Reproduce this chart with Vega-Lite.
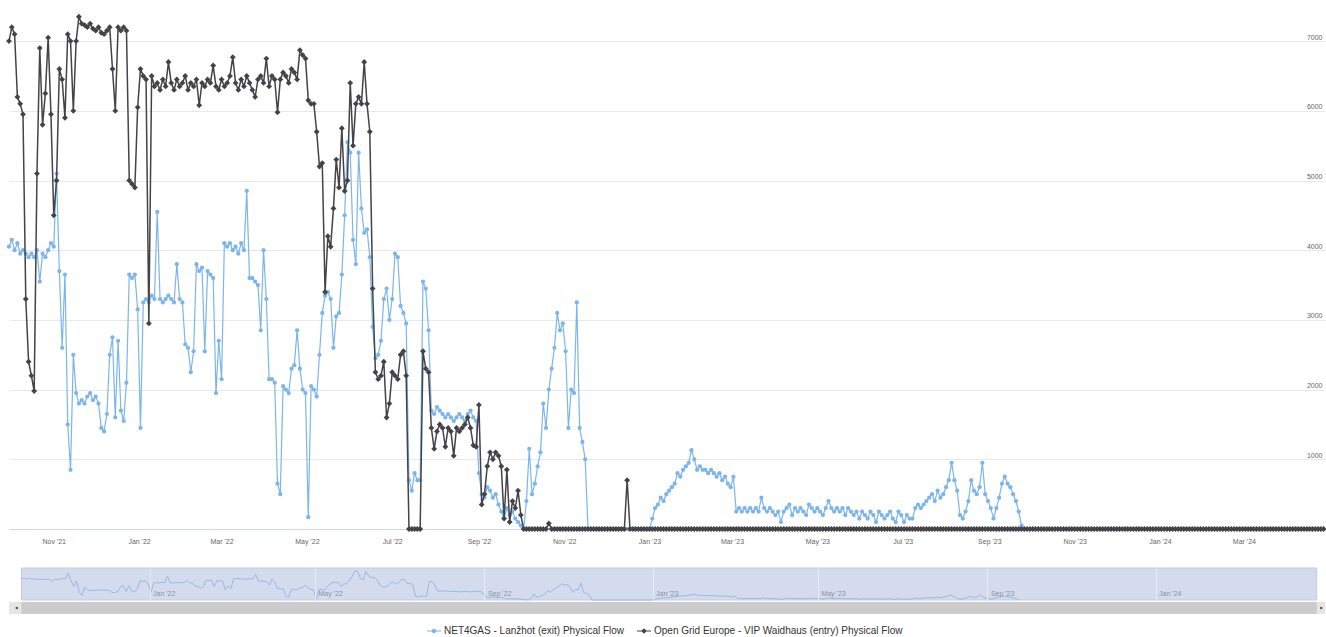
{
  "$schema": "https://vega.github.io/schema/vega-lite/v6.json",
  "background": "#ffffff",
  "padding": {"left": 6, "top": 0, "right": 0, "bottom": 0},
  "config": {
    "view": {"stroke": null},
    "font": "Liberation Sans",
    "axis": {"labelFont": "Liberation Sans"},
    "legend": {"labelFont": "Liberation Sans"}
  },
  "datasets": {
    "range": [{"start": "2021-09-30", "end": "2024-04-27"}],
    "keys": [{"s": "a"}, {"s": "b"}],
    "flow": [
      {"d":"2021-09-30","a":4050,"b":7000},{"d":"2021-10-02","a":4150,"b":7200},{"d":"2021-10-04","a":4000,"b":7100},{"d":"2021-10-06","a":4100,"b":6200},
      {"d":"2021-10-08","a":3950,"b":6100},{"d":"2021-10-10","a":4000,"b":5950},{"d":"2021-10-12","a":3950,"b":3300},{"d":"2021-10-14","a":3900,"b":2400},
      {"d":"2021-10-16","a":3950,"b":2200},{"d":"2021-10-18","a":3900,"b":1980},{"d":"2021-10-20","a":4000,"b":5100},{"d":"2021-10-22","a":3550,"b":6900},
      {"d":"2021-10-24","a":3950,"b":5800},{"d":"2021-10-26","a":3900,"b":6250},{"d":"2021-10-28","a":4000,"b":7050},{"d":"2021-10-30","a":4100,"b":5950},
      {"d":"2021-11-01","a":4050,"b":4500},{"d":"2021-11-03","a":5100,"b":5000},{"d":"2021-11-05","a":3700,"b":6600},{"d":"2021-11-07","a":2600,"b":6450},
      {"d":"2021-11-09","a":3650,"b":5900},{"d":"2021-11-11","a":1500,"b":7100},{"d":"2021-11-13","a":850,"b":7000},{"d":"2021-11-15","a":2500,"b":6000},
      {"d":"2021-11-17","a":1950,"b":7000},{"d":"2021-11-19","a":1800,"b":7350},{"d":"2021-11-21","a":1850,"b":7250},{"d":"2021-11-23","a":1800,"b":7230},
      {"d":"2021-11-25","a":1900,"b":7200},{"d":"2021-11-27","a":1950,"b":7250},{"d":"2021-11-29","a":1850,"b":7180},{"d":"2021-12-01","a":1900,"b":7150},
      {"d":"2021-12-03","a":1800,"b":7200},{"d":"2021-12-05","a":1450,"b":7120},{"d":"2021-12-07","a":1400,"b":7100},{"d":"2021-12-09","a":1650,"b":7150},
      {"d":"2021-12-11","a":2500,"b":7200},{"d":"2021-12-13","a":2750,"b":6600},{"d":"2021-12-15","a":1600,"b":6000},{"d":"2021-12-17","a":2700,"b":7200},
      {"d":"2021-12-19","a":1700,"b":7150},{"d":"2021-12-21","a":1550,"b":7200},{"d":"2021-12-23","a":2100,"b":7150},{"d":"2021-12-25","a":3650,"b":5000},
      {"d":"2021-12-27","a":3600,"b":4950},{"d":"2021-12-29","a":3650,"b":4900},{"d":"2021-12-31","a":3150,"b":6050},
      {"d":"2022-01-02","a":1450,"b":6600},{"d":"2022-01-04","a":3250,"b":6500},{"d":"2022-01-06","a":3300,"b":6450},{"d":"2022-01-08","a":3250,"b":2950},
      {"d":"2022-01-10","a":3350,"b":6500},{"d":"2022-01-12","a":3300,"b":6350},{"d":"2022-01-14","a":4550,"b":6400},{"d":"2022-01-16","a":3300,"b":6300},
      {"d":"2022-01-18","a":3250,"b":6450},{"d":"2022-01-20","a":3300,"b":6350},{"d":"2022-01-22","a":3350,"b":6700},{"d":"2022-01-24","a":3300,"b":6400},
      {"d":"2022-01-26","a":3250,"b":6300},{"d":"2022-01-28","a":3800,"b":6450},{"d":"2022-01-30","a":3300,"b":6350},{"d":"2022-02-01","a":3250,"b":6400},
      {"d":"2022-02-03","a":2650,"b":6500},{"d":"2022-02-05","a":2600,"b":6300},{"d":"2022-02-07","a":2250,"b":6400},{"d":"2022-02-09","a":2550,"b":6350},
      {"d":"2022-02-11","a":3800,"b":6450},{"d":"2022-02-13","a":3700,"b":6080},{"d":"2022-02-15","a":3750,"b":6400},{"d":"2022-02-17","a":2550,"b":6350},
      {"d":"2022-02-19","a":3700,"b":6450},{"d":"2022-02-21","a":3650,"b":6400},{"d":"2022-02-23","a":3600,"b":6650},{"d":"2022-02-25","a":1950,"b":6350},
      {"d":"2022-02-27","a":2700,"b":6300},{"d":"2022-03-01","a":2150,"b":6450},{"d":"2022-03-03","a":4100,"b":6350},{"d":"2022-03-05","a":4050,"b":6400},
      {"d":"2022-03-07","a":4100,"b":6500},{"d":"2022-03-09","a":4000,"b":6770},{"d":"2022-03-11","a":4050,"b":6400},{"d":"2022-03-13","a":3950,"b":6300},
      {"d":"2022-03-15","a":4100,"b":6450},{"d":"2022-03-17","a":4000,"b":6350},{"d":"2022-03-19","a":4850,"b":6500},{"d":"2022-03-21","a":3600,"b":6400},
      {"d":"2022-03-23","a":3600,"b":6300},{"d":"2022-03-25","a":3550,"b":6200},{"d":"2022-03-27","a":3500,"b":6450},{"d":"2022-03-29","a":2850,"b":6500},
      {"d":"2022-03-31","a":4000,"b":6400},{"d":"2022-04-02","a":3300,"b":6750},{"d":"2022-04-04","a":2150,"b":6350},{"d":"2022-04-06","a":2150,"b":6500},
      {"d":"2022-04-08","a":2100,"b":6450},{"d":"2022-04-10","a":650,"b":5980},{"d":"2022-04-12","a":500,"b":6450},{"d":"2022-04-14","a":2050,"b":6550},
      {"d":"2022-04-16","a":2000,"b":6500},{"d":"2022-04-18","a":1950,"b":6400},{"d":"2022-04-20","a":2300,"b":6600},{"d":"2022-04-22","a":2350,"b":6550},
      {"d":"2022-04-24","a":2850,"b":6450},{"d":"2022-04-26","a":2300,"b":6870},{"d":"2022-04-28","a":2000,"b":6800},{"d":"2022-04-30","a":1950,"b":6750},
      {"d":"2022-05-02","a":170,"b":6150},{"d":"2022-05-04","a":2050,"b":6100},{"d":"2022-05-06","a":2000,"b":6100},{"d":"2022-05-08","a":1900,"b":5700},
      {"d":"2022-05-10","a":2500,"b":5200},{"d":"2022-05-12","a":3100,"b":5250},{"d":"2022-05-14","a":3350,"b":3400},{"d":"2022-05-16","a":3400,"b":4200},
      {"d":"2022-05-18","a":3300,"b":4050},{"d":"2022-05-20","a":2600,"b":4600},{"d":"2022-05-22","a":3050,"b":5300},{"d":"2022-05-24","a":3100,"b":4900},
      {"d":"2022-05-26","a":3650,"b":5750},{"d":"2022-05-28","a":4500,"b":4850},{"d":"2022-05-30","a":5550,"b":5000},{"d":"2022-06-01","a":5400,"b":6400},
      {"d":"2022-06-03","a":4150,"b":5500},{"d":"2022-06-05","a":3800,"b":6100},{"d":"2022-06-07","a":5400,"b":6200},{"d":"2022-06-09","a":4600,"b":6100},
      {"d":"2022-06-11","a":4250,"b":6700},{"d":"2022-06-13","a":4300,"b":6100},{"d":"2022-06-15","a":3900,"b":5700},{"d":"2022-06-17","a":2900,"b":3450},
      {"d":"2022-06-19","a":2450,"b":2250},{"d":"2022-06-21","a":2500,"b":2150},{"d":"2022-06-23","a":2700,"b":2200},{"d":"2022-06-25","a":3300,"b":2400},
      {"d":"2022-06-27","a":3450,"b":1600},{"d":"2022-06-29","a":3000,"b":1800},{"d":"2022-07-01","a":3300,"b":2250},{"d":"2022-07-03","a":3950,"b":2200},
      {"d":"2022-07-05","a":3900,"b":2150},{"d":"2022-07-07","a":3200,"b":2500},{"d":"2022-07-09","a":3100,"b":2550},{"d":"2022-07-11","a":2950,"b":2200},
      {"d":"2022-07-13","a":700,"b":0},{"d":"2022-07-15","a":550,"b":0},{"d":"2022-07-17","a":800,"b":0},{"d":"2022-07-19","a":700,"b":0},
      {"d":"2022-07-21","a":700,"b":0},{"d":"2022-07-23","a":3550,"b":2550},{"d":"2022-07-25","a":3450,"b":2300},{"d":"2022-07-27","a":2850,"b":2250},
      {"d":"2022-07-29","a":1700,"b":1450},{"d":"2022-07-31","a":1650,"b":1150},{"d":"2022-08-02","a":1750,"b":1400},{"d":"2022-08-04","a":1700,"b":1500},
      {"d":"2022-08-06","a":1650,"b":1450},{"d":"2022-08-08","a":1600,"b":1180},{"d":"2022-08-10","a":1650,"b":1450},{"d":"2022-08-12","a":1600,"b":1400},
      {"d":"2022-08-14","a":1550,"b":1050},{"d":"2022-08-16","a":1600,"b":1450},{"d":"2022-08-18","a":1650,"b":1400},{"d":"2022-08-20","a":1600,"b":1450},
      {"d":"2022-08-22","a":1550,"b":1500},{"d":"2022-08-24","a":1650,"b":1600},{"d":"2022-08-26","a":1700,"b":1450},{"d":"2022-08-28","a":1600,"b":1200},
      {"d":"2022-08-30","a":1550,"b":1180},{"d":"2022-09-01","a":800,"b":1780},{"d":"2022-09-03","a":500,"b":350},{"d":"2022-09-05","a":450,"b":500},
      {"d":"2022-09-07","a":600,"b":900},{"d":"2022-09-09","a":550,"b":1100},{"d":"2022-09-11","a":450,"b":1000},{"d":"2022-09-13","a":500,"b":1100},
      {"d":"2022-09-15","a":350,"b":1050},{"d":"2022-09-17","a":250,"b":900},{"d":"2022-09-19","a":150,"b":150},{"d":"2022-09-21","a":300,"b":850},
      {"d":"2022-09-23","a":200,"b":100},{"d":"2022-09-25","a":250,"b":400},{"d":"2022-09-27","a":150,"b":300},{"d":"2022-09-29","a":100,"b":550},
      {"d":"2022-10-01","a":50,"b":200},{"d":"2022-10-03","a":0,"b":0},{"d":"2022-10-05","a":400,"b":0},{"d":"2022-10-07","a":1150,"b":0},
      {"d":"2022-10-09","a":500,"b":0},{"d":"2022-10-11","a":650,"b":0},{"d":"2022-10-13","a":900,"b":0},{"d":"2022-10-15","a":1100,"b":0},
      {"d":"2022-10-17","a":1800,"b":0},{"d":"2022-10-19","a":1450,"b":0},{"d":"2022-10-21","a":2000,"b":80},{"d":"2022-10-23","a":2300,"b":0},
      {"d":"2022-10-25","a":2600,"b":0},{"d":"2022-10-27","a":3100,"b":0},{"d":"2022-10-29","a":2850,"b":0},{"d":"2022-10-31","a":2950,"b":0},
      {"d":"2022-11-02","a":2550,"b":0},{"d":"2022-11-04","a":1450,"b":0},{"d":"2022-11-06","a":2000,"b":0},{"d":"2022-11-08","a":1950,"b":0},
      {"d":"2022-11-10","a":3250,"b":0},{"d":"2022-11-12","a":1450,"b":0},{"d":"2022-11-14","a":1250,"b":0},{"d":"2022-11-16","a":1000,"b":0},
      {"d":"2022-11-18","a":0,"b":0},{"d":"2022-11-20","a":0,"b":0},{"d":"2022-11-22","a":0,"b":0},{"d":"2022-11-24","a":0,"b":0},
      {"d":"2022-11-26","a":0,"b":0},{"d":"2022-11-28","a":0,"b":0},{"d":"2022-11-30","a":0,"b":0},{"d":"2022-12-02","a":0,"b":0},
      {"d":"2022-12-04","a":0,"b":0},{"d":"2022-12-06","a":0,"b":0},{"d":"2022-12-08","a":0,"b":0},{"d":"2022-12-10","a":0,"b":0},
      {"d":"2022-12-12","a":0,"b":0},{"d":"2022-12-14","a":0,"b":0},{"d":"2022-12-16","a":0,"b":700},{"d":"2022-12-18","a":0,"b":0},
      {"d":"2022-12-20","a":0,"b":0},{"d":"2022-12-22","a":0,"b":0},{"d":"2022-12-24","a":0,"b":0},{"d":"2022-12-26","a":0,"b":0},
      {"d":"2022-12-28","a":0,"b":0},{"d":"2022-12-30","a":0,"b":0},{"d":"2023-01-01","a":0,"b":0},
      {"d":"2023-01-03","a":150,"b":0},{"d":"2023-01-05","a":300,"b":0},{"d":"2023-01-07","a":350,"b":0},{"d":"2023-01-09","a":450,"b":0},
      {"d":"2023-01-11","a":400,"b":0},{"d":"2023-01-13","a":500,"b":0},{"d":"2023-01-15","a":550,"b":0},{"d":"2023-01-17","a":600,"b":0},
      {"d":"2023-01-19","a":650,"b":0},{"d":"2023-01-21","a":800,"b":0},{"d":"2023-01-23","a":750,"b":0},{"d":"2023-01-25","a":850,"b":0},
      {"d":"2023-01-27","a":900,"b":0},{"d":"2023-01-29","a":950,"b":0},{"d":"2023-01-31","a":1130,"b":0},{"d":"2023-02-02","a":1000,"b":0},
      {"d":"2023-02-04","a":850,"b":0},{"d":"2023-02-06","a":900,"b":0},{"d":"2023-02-08","a":850,"b":0},{"d":"2023-02-10","a":850,"b":0},
      {"d":"2023-02-12","a":800,"b":0},{"d":"2023-02-14","a":850,"b":0},{"d":"2023-02-16","a":800,"b":0},{"d":"2023-02-18","a":750,"b":0},
      {"d":"2023-02-20","a":800,"b":0},{"d":"2023-02-22","a":700,"b":0},{"d":"2023-02-24","a":750,"b":0},{"d":"2023-02-26","a":650,"b":0},
      {"d":"2023-02-28","a":600,"b":0},{"d":"2023-03-02","a":750,"b":0},{"d":"2023-03-04","a":250,"b":0},{"d":"2023-03-06","a":300,"b":0},
      {"d":"2023-03-08","a":250,"b":0},{"d":"2023-03-10","a":300,"b":0},{"d":"2023-03-12","a":250,"b":0},{"d":"2023-03-14","a":300,"b":0},
      {"d":"2023-03-16","a":250,"b":0},{"d":"2023-03-18","a":300,"b":0},{"d":"2023-03-20","a":250,"b":0},{"d":"2023-03-22","a":450,"b":0},
      {"d":"2023-03-24","a":300,"b":0},{"d":"2023-03-26","a":250,"b":0},{"d":"2023-03-28","a":300,"b":0},{"d":"2023-03-30","a":250,"b":0},
      {"d":"2023-04-01","a":200,"b":0},{"d":"2023-04-03","a":250,"b":0},{"d":"2023-04-05","a":100,"b":0},{"d":"2023-04-07","a":250,"b":0},
      {"d":"2023-04-09","a":300,"b":0},{"d":"2023-04-11","a":350,"b":0},{"d":"2023-04-13","a":200,"b":0},{"d":"2023-04-15","a":300,"b":0},
      {"d":"2023-04-17","a":250,"b":0},{"d":"2023-04-19","a":300,"b":0},{"d":"2023-04-21","a":250,"b":0},{"d":"2023-04-23","a":200,"b":0},
      {"d":"2023-04-25","a":350,"b":0},{"d":"2023-04-27","a":300,"b":0},{"d":"2023-04-29","a":250,"b":0},{"d":"2023-05-01","a":300,"b":0},
      {"d":"2023-05-03","a":250,"b":0},{"d":"2023-05-05","a":200,"b":0},{"d":"2023-05-07","a":300,"b":0},{"d":"2023-05-09","a":400,"b":0},
      {"d":"2023-05-11","a":300,"b":0},{"d":"2023-05-13","a":250,"b":0},{"d":"2023-05-15","a":300,"b":0},{"d":"2023-05-17","a":250,"b":0},
      {"d":"2023-05-19","a":300,"b":0},{"d":"2023-05-21","a":200,"b":0},{"d":"2023-05-23","a":300,"b":0},{"d":"2023-05-25","a":250,"b":0},
      {"d":"2023-05-27","a":200,"b":0},{"d":"2023-05-29","a":250,"b":0},{"d":"2023-05-31","a":150,"b":0},{"d":"2023-06-02","a":250,"b":0},
      {"d":"2023-06-04","a":200,"b":0},{"d":"2023-06-06","a":150,"b":0},{"d":"2023-06-08","a":250,"b":0},{"d":"2023-06-10","a":200,"b":0},
      {"d":"2023-06-12","a":100,"b":0},{"d":"2023-06-14","a":250,"b":0},{"d":"2023-06-16","a":200,"b":0},{"d":"2023-06-18","a":150,"b":0},
      {"d":"2023-06-20","a":200,"b":0},{"d":"2023-06-22","a":250,"b":0},{"d":"2023-06-24","a":150,"b":0},{"d":"2023-06-26","a":100,"b":0},
      {"d":"2023-06-28","a":250,"b":0},{"d":"2023-06-30","a":200,"b":0},{"d":"2023-07-02","a":100,"b":0},{"d":"2023-07-04","a":200,"b":0},
      {"d":"2023-07-06","a":150,"b":0},{"d":"2023-07-08","a":150,"b":0},{"d":"2023-07-10","a":300,"b":0},{"d":"2023-07-12","a":350,"b":0},
      {"d":"2023-07-14","a":300,"b":0},{"d":"2023-07-16","a":350,"b":0},{"d":"2023-07-18","a":400,"b":0},{"d":"2023-07-20","a":450,"b":0},
      {"d":"2023-07-22","a":500,"b":0},{"d":"2023-07-24","a":400,"b":0},{"d":"2023-07-26","a":550,"b":0},{"d":"2023-07-28","a":450,"b":0},
      {"d":"2023-07-30","a":500,"b":0},{"d":"2023-08-01","a":600,"b":0},{"d":"2023-08-03","a":700,"b":0},{"d":"2023-08-05","a":950,"b":0},
      {"d":"2023-08-07","a":700,"b":0},{"d":"2023-08-09","a":550,"b":0},{"d":"2023-08-11","a":200,"b":0},{"d":"2023-08-13","a":150,"b":0},
      {"d":"2023-08-15","a":250,"b":0},{"d":"2023-08-17","a":400,"b":0},{"d":"2023-08-19","a":700,"b":0},{"d":"2023-08-21","a":550,"b":0},
      {"d":"2023-08-23","a":500,"b":0},{"d":"2023-08-25","a":600,"b":0},{"d":"2023-08-27","a":950,"b":0},{"d":"2023-08-29","a":500,"b":0},
      {"d":"2023-08-31","a":400,"b":0},{"d":"2023-09-02","a":300,"b":0},{"d":"2023-09-04","a":150,"b":0},{"d":"2023-09-06","a":300,"b":0},
      {"d":"2023-09-08","a":450,"b":0},{"d":"2023-09-10","a":650,"b":0},{"d":"2023-09-12","a":750,"b":0},{"d":"2023-09-14","a":650,"b":0},
      {"d":"2023-09-16","a":600,"b":0},{"d":"2023-09-18","a":500,"b":0},{"d":"2023-09-20","a":400,"b":0},{"d":"2023-09-22","a":250,"b":0},
      {"d":"2023-09-24","a":50,"b":0},
      {"d":"2023-09-26","b":0},{"d":"2023-09-28","b":0},{"d":"2023-09-30","b":0},
      {"d":"2023-10-02","b":0},{"d":"2023-10-04","b":0},{"d":"2023-10-06","b":0},{"d":"2023-10-08","b":0},{"d":"2023-10-10","b":0},
      {"d":"2023-10-12","b":0},{"d":"2023-10-14","b":0},{"d":"2023-10-16","b":0},{"d":"2023-10-18","b":0},{"d":"2023-10-20","b":0},
      {"d":"2023-10-22","b":0},{"d":"2023-10-24","b":0},{"d":"2023-10-26","b":0},{"d":"2023-10-28","b":0},{"d":"2023-10-30","b":0},
      {"d":"2023-11-01","b":0},{"d":"2023-11-03","b":0},{"d":"2023-11-05","b":0},{"d":"2023-11-07","b":0},{"d":"2023-11-09","b":0},
      {"d":"2023-11-11","b":0},{"d":"2023-11-13","b":0},{"d":"2023-11-15","b":0},{"d":"2023-11-17","b":0},{"d":"2023-11-19","b":0},
      {"d":"2023-11-21","b":0},{"d":"2023-11-23","b":0},{"d":"2023-11-25","b":0},{"d":"2023-11-27","b":0},{"d":"2023-11-29","b":0},
      {"d":"2023-12-01","b":0},{"d":"2023-12-03","b":0},{"d":"2023-12-05","b":0},{"d":"2023-12-07","b":0},{"d":"2023-12-09","b":0},
      {"d":"2023-12-11","b":0},{"d":"2023-12-13","b":0},{"d":"2023-12-15","b":0},{"d":"2023-12-17","b":0},{"d":"2023-12-19","b":0},
      {"d":"2023-12-21","b":0},{"d":"2023-12-23","b":0},{"d":"2023-12-25","b":0},{"d":"2023-12-27","b":0},{"d":"2023-12-29","b":0},
      {"d":"2023-12-31","b":0},
      {"d":"2024-01-02","b":0},{"d":"2024-01-04","b":0},{"d":"2024-01-06","b":0},{"d":"2024-01-08","b":0},{"d":"2024-01-10","b":0},
      {"d":"2024-01-12","b":0},{"d":"2024-01-14","b":0},{"d":"2024-01-16","b":0},{"d":"2024-01-18","b":0},{"d":"2024-01-20","b":0},
      {"d":"2024-01-22","b":0},{"d":"2024-01-24","b":0},{"d":"2024-01-26","b":0},{"d":"2024-01-28","b":0},{"d":"2024-01-30","b":0},
      {"d":"2024-02-01","b":0},{"d":"2024-02-03","b":0},{"d":"2024-02-05","b":0},{"d":"2024-02-07","b":0},{"d":"2024-02-09","b":0},
      {"d":"2024-02-11","b":0},{"d":"2024-02-13","b":0},{"d":"2024-02-15","b":0},{"d":"2024-02-17","b":0},{"d":"2024-02-19","b":0},
      {"d":"2024-02-21","b":0},{"d":"2024-02-23","b":0},{"d":"2024-02-25","b":0},{"d":"2024-02-27","b":0},{"d":"2024-02-29","b":0},
      {"d":"2024-03-02","b":0},{"d":"2024-03-04","b":0},{"d":"2024-03-06","b":0},{"d":"2024-03-08","b":0},{"d":"2024-03-10","b":0},
      {"d":"2024-03-12","b":0},{"d":"2024-03-14","b":0},{"d":"2024-03-16","b":0},{"d":"2024-03-18","b":0},{"d":"2024-03-20","b":0},
      {"d":"2024-03-22","b":0},{"d":"2024-03-24","b":0},{"d":"2024-03-26","b":0},{"d":"2024-03-28","b":0},{"d":"2024-03-30","b":0},
      {"d":"2024-04-01","b":0},{"d":"2024-04-03","b":0},{"d":"2024-04-05","b":0},{"d":"2024-04-07","b":0},{"d":"2024-04-09","b":0},
      {"d":"2024-04-11","b":0},{"d":"2024-04-13","b":0},{"d":"2024-04-15","b":0},{"d":"2024-04-17","b":0},{"d":"2024-04-19","b":0},
      {"d":"2024-04-21","b":0},{"d":"2024-04-23","b":0},{"d":"2024-04-25","b":0},{"d":"2024-04-27","b":0}
    ]
  },
  "spacing": 23,
  "vconcat": [
    {
      "width": 1316,
      "height": 529,
      "encoding": {
        "x": {
          "field": "d",
          "type": "temporal",
          "scale": {
            "type": "utc",
            "domain": [
              {"year": 2021, "month": 9, "date": 30, "utc": true},
              {"year": 2024, "month": 4, "date": 28, "utc": true}
            ]
          },
          "axis": {
            "title": null,
            "format": "%b '%y",
            "tickCount": {"interval": "month", "step": 2},
            "labelFontSize": 7,
            "labelColor": "#666666",
            "labelPadding": 8,
            "ticks": false,
            "grid": false,
            "domain": true,
            "domainColor": "#ccd6eb",
            "labelFlush": false,
            "labelOverlap": false,
            "labelBound": false
          }
        },
        "y": {
          "field": "v",
          "type": "quantitative",
          "scale": {"domain": [0, 7590], "nice": false},
          "axis": {
            "title": null,
            "orient": "right",
            "values": [0, 1000, 2000, 3000, 4000, 5000, 6000, 7000],
            "format": "d",
            "labelExpr": "datum.value == 0 ? '' : datum.label",
            "grid": true,
            "gridColor": "#e8e8e8",
            "ticks": false,
            "domain": false,
            "labelAlign": "right",
            "labelBaseline": "bottom",
            "labelPadding": -3,
            "labelOffset": -1,
            "labelFontSize": 7,
            "labelColor": "#666666",
            "labelFlush": false
          }
        }
      },
      "layer": [
        {
          "data": {"name": "flow"},
          "transform": [{"fold": ["a", "b"], "as": ["s", "v"]}],
          "layer": [
            {
              "transform": [{"filter": {"field": "s", "equal": "a"}}],
              "mark": {"type": "line", "color": "#7cb5ec", "strokeWidth": 1.2}
            },
            {
              "transform": [{"filter": {"field": "s", "equal": "a"}}],
              "mark": {"type": "point", "shape": "circle", "filled": true, "color": "#7cb5ec", "size": 18, "opacity": 1}
            },
            {
              "transform": [{"filter": {"field": "s", "equal": "b"}}],
              "mark": {"type": "line", "color": "#434348", "strokeWidth": 1.5}
            },
            {
              "transform": [{"filter": {"field": "s", "equal": "b"}}],
              "mark": {"type": "point", "shape": "diamond", "filled": true, "color": "#434348", "size": 34, "opacity": 1}
            }
          ]
        },
        {
          "data": {"name": "keys"},
          "transform": [{"filter": "false"}],
          "mark": {"type": "point", "filled": true, "opacity": 1},
          "encoding": {
            "color": {
              "field": "s",
              "type": "nominal",
              "scale": {"domain": ["a", "b"], "range": ["#7cb5ec", "#434348"]},
              "legend": {
                "orient": "none",
                "legendX": 418,
                "legendY": 624,
                "direction": "horizontal",
                "title": null,
                "padding": 0,
                "labelExpr": "datum.value == 'a' ? 'NET4GAS - Lanžhot (exit) Physical Flow' : 'Open Grid Europe - VIP Waidhaus (entry) Physical Flow'",
                "labelFontSize": 10,
                "labelColor": "#333333",
                "labelLimit": 400,
                "labelOffset": 3,
                "symbolSize": 196,
                "symbolStrokeWidth": 0,
                "columnPadding": 12
              }
            },
            "shape": {
              "field": "s",
              "type": "nominal",
              "scale": {
                "domain": ["a", "b"],
                "range": [
                  "M-1,-0.08H1V0.08H-1Z M0.32,0A0.32,0.32,0,1,1,-0.32,0A0.32,0.32,0,1,1,0.32,0Z",
                  "M-1,-0.08H1V0.08H-1Z M0,-0.4L0.4,0L0,0.4L-0.4,0Z"
                ]
              },
              "legend": {
                "orient": "none",
                "legendX": 418,
                "legendY": 624,
                "direction": "horizontal",
                "title": null,
                "padding": 0,
                "labelExpr": "datum.value == 'a' ? 'NET4GAS - Lanžhot (exit) Physical Flow' : 'Open Grid Europe - VIP Waidhaus (entry) Physical Flow'",
                "labelFontSize": 10,
                "labelColor": "#333333",
                "labelLimit": 400,
                "labelOffset": 3,
                "symbolSize": 196,
                "symbolStrokeWidth": 0,
                "columnPadding": 12
              }
            }
          }
        }
      ]
    },
    {
      "spacing": 0,
      "vconcat": [
        {
          "width": 1316,
          "height": 32,
          "layer": [
            {
              "data": {"name": "range"},
              "mark": {"type": "rect", "fill": "#d3dbed", "stroke": "#c4cbdc", "strokeWidth": 1},
              "encoding": {
                "x": {
                  "field": "start",
                  "type": "temporal",
                  "scale": {
                    "type": "utc",
                    "domain": [
                      {"year": 2021, "month": 9, "date": 21, "utc": true},
                      {"year": 2024, "month": 5, "date": 3, "utc": true}
                    ]
                  },
                  "axis": {
                    "title": null,
                    "format": "%b '%y",
                    "values": [
                      {"year": 2022, "month": 1, "date": 1, "utc": true},
                      {"year": 2022, "month": 5, "date": 1, "utc": true},
                      {"year": 2022, "month": 9, "date": 1, "utc": true},
                      {"year": 2023, "month": 1, "date": 1, "utc": true},
                      {"year": 2023, "month": 5, "date": 1, "utc": true},
                      {"year": 2023, "month": 9, "date": 1, "utc": true},
                      {"year": 2024, "month": 1, "date": 1, "utc": true}
                    ],
                    "grid": true,
                    "gridColor": "#e6eaf4",
                    "ticks": false,
                    "domain": false,
                    "labelAlign": "left",
                    "labelBaseline": "alphabetic",
                    "labelPadding": -5,
                    "labelOffset": 3,
                    "labelFontSize": 7,
                    "labelColor": "#8a93a6",
                    "labelFlush": false,
                    "labelOverlap": false,
                    "zindex": 1
                  }
                },
                "x2": {"field": "end"}
              }
            },
            {
              "data": {"name": "flow"},
              "mark": {"type": "line", "color": "#9ab9e4", "strokeWidth": 1},
              "encoding": {
                "x": {"field": "d", "type": "temporal"},
                "y": {
                  "field": "a",
                  "type": "quantitative",
                  "scale": {"domain": [0, 6100], "nice": false},
                  "axis": null
                }
              }
            }
          ]
        },
        {
          "width": 1316,
          "height": 12,
          "view": {"fill": "#e6e6e6"},
          "data": {"name": "range"},
          "layer": [
            {
              "mark": {"type": "rect", "fill": "#cccccc"},
              "encoding": {
                "x": {
                  "field": "start",
                  "type": "temporal",
                  "scale": {
                    "type": "utc",
                    "domain": [
                      {"year": 2021, "month": 9, "date": 21, "utc": true},
                      {"year": 2024, "month": 5, "date": 3, "utc": true}
                    ]
                  },
                  "axis": null
                },
                "x2": {"field": "end"}
              }
            },
            {
              "mark": {"type": "point", "shape": "triangle-left", "filled": true, "color": "#333333", "size": 10, "opacity": 1, "xOffset": -5},
              "encoding": {"x": {"field": "start", "type": "temporal"}}
            },
            {
              "mark": {"type": "point", "shape": "triangle-right", "filled": true, "color": "#333333", "size": 10, "opacity": 1, "xOffset": 5},
              "encoding": {"x": {"field": "end", "type": "temporal"}}
            }
          ]
        }
      ]
    }
  ]
}
